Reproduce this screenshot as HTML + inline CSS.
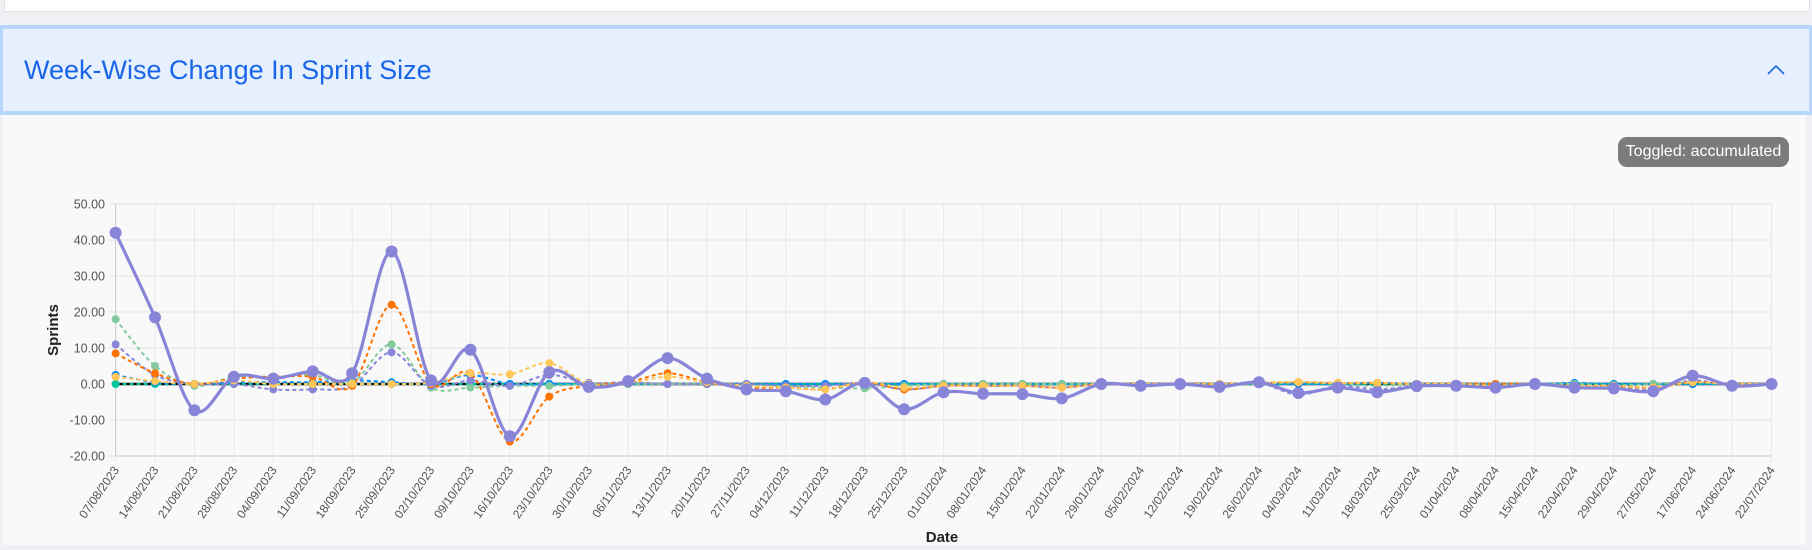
<!DOCTYPE html>
<html><head><meta charset="utf-8">
<style>
html,body{margin:0;padding:0;width:1812px;height:550px;overflow:hidden;background:#f0eff4;font-family:"Liberation Sans",sans-serif;}
#topcard{position:absolute;left:4px;top:0;width:1804px;height:11px;background:#fff;border:1px solid #ddd;border-top:none;}
#header{position:absolute;left:0;top:25px;width:1806px;height:82px;background:#e7f0fe;border:4px solid #b8d5fb;border-left-width:3px;}
#title{position:absolute;left:21px;top:26px;font-size:27px;color:#1a66e8;white-space:nowrap;}
#body{position:absolute;left:3px;top:115px;width:1803px;height:430px;background:#f9f9f9;}
#badge{position:absolute;left:1618px;top:137px;width:171px;height:30px;background:#7b7b7b;border-radius:9px;color:#fff;font-size:16px;line-height:30px;text-align:center;}
svg{position:absolute;left:0;top:0;}
</style></head><body>
<div id="topcard"></div>
<div id="header">
  <div id="title">Week-Wise Change In Sprint Size</div>
</div>
<div id="body"></div>
<div id="badge">Toggled: accumulated</div>
<svg id="chart" width="1812" height="550">
  <polyline points="1768,74 1776,66 1784,74" fill="none" stroke="#1a66e8" stroke-width="1.6"/>
</svg>
<script>
const categories=["07/08/2023","14/08/2023","21/08/2023","28/08/2023","04/09/2023","11/09/2023","18/09/2023","25/09/2023","02/10/2023","09/10/2023","16/10/2023","23/10/2023","30/10/2023","06/11/2023","13/11/2023","20/11/2023","27/11/2023","04/12/2023","11/12/2023","18/12/2023","25/12/2023","01/01/2024","08/01/2024","15/01/2024","22/01/2024","29/01/2024","05/02/2024","12/02/2024","19/02/2024","26/02/2024","04/03/2024","11/03/2024","18/03/2024","25/03/2024","01/04/2024","08/04/2024","15/04/2024","22/04/2024","29/04/2024","27/05/2024","17/06/2024","24/06/2024","22/07/2024"];
const yTicks=[50,40,30,20,10,0,-10,-20];
const seriesTeal=[0,0,0,0,0,0,0,0,0,0,0,0,0,0,0,0,0,0,0,0,0,0,0,0,0,0,0,0,0,0,0,0,0,0,0,0,0,0,0,0,0,0,0];
const seriesBlue=[2.5,0.5,0,0.5,0.5,0.5,1,0.5,0,2.5,0,0,0,0,0,0,0,0,0,0,0,0,0,0,0,0,0,0,0,0,0,0,0.3,0,0,0,0,0.3,0,0,0,0,0];
const seriesYellow=[2,0.8,0,1,0,0,0,0,0.3,3,2.7,5.8,0,0.3,2,0.5,-0.5,-1,-1.5,0.5,-1,-0.5,-0.5,-0.5,-1,0,0,0,0,0.3,0.5,0.3,0.3,0,0,-0.5,0,-0.5,-0.5,-1,0.5,0,0];
const seriesGreen=[18,5,-0.5,2,2,2.5,0.5,11,-1,-1,-0.5,-0.5,0,0,0,0,-0.5,-0.5,-1,-1.2,-0.5,0,0,0,0,0,0,0,0,0,0.5,0,-0.5,0,0,0,0,0,-0.3,0,0.5,0,0];
const seriesLavender=[11,2.5,0,0,-1.5,-1.5,-0.5,8.8,-0.5,1,-0.5,2.5,0.3,0.5,0,0,0,-0.5,-0.5,0.3,-1.5,-0.5,-0.5,-0.5,-1,0,-0.3,0,-0.5,0.3,-3,-0.5,-1.5,-0.5,-0.5,-0.5,0,-0.5,-0.8,-1.5,1,-0.5,0];
const seriesOrange=[8.5,3,0,1.5,2,2,-0.5,22,0,3,-16,-3.5,-0.5,0.5,3,0.5,-1,-1,-1.5,0.5,-1.5,-0.5,-0.5,-0.5,-1,0,0,0,0,0.3,0.5,0.3,0.3,0,0,0,0,-0.5,-0.5,-1,0.5,0,0];
const seriesMain=[42,18.5,-7.3,2,1.5,3.5,3,36.8,1,9.5,-14.5,3.3,-0.8,0.8,7.2,1.5,-1.5,-2,-4.3,0.3,-7,-2.3,-2.7,-2.8,-4,0,-0.5,0,-0.8,0.5,-2.5,-1,-2.3,-0.6,-0.5,-1,0,-1,-1.2,-2,2.3,-0.5,0];

const svg=document.getElementById('chart');
const NS='http://www.w3.org/2000/svg';
const X0=115.6,X1=1771.5,Y0=384,PX=3.6;
function xs(i){return X0+(X1-X0)*i/(categories.length-1);}
function ys(v){return Y0-v*PX;}
function mk(t,a,parent){const e=document.createElementNS(NS,t);for(const k in a)e.setAttribute(k,a[k]);(parent||svg).appendChild(e);return e;}

for(let i=0;i<categories.length;i++){
  const l=mk('line',{x1:xs(i),x2:xs(i),y1:ys(50),y2:ys(-20)+6,stroke:'#e9e9e9','stroke-width':1});
  
  
}
yTicks.forEach(v=>{
  const l=mk('line',{x1:X0-7,x2:X1,y1:ys(v),y2:ys(v),stroke:'#e2e2e2','stroke-width':1});
  
  
  const t=mk('text',{x:105,y:ys(v)+4.5,'text-anchor':'end','font-size':12.5,fill:'#555'});
  t.textContent=v.toFixed(2);
  
  
});
mk('line',{x1:X0,x2:X0,y1:ys(50),y2:ys(-20),stroke:'#ccc'});
mk('line',{x1:X0,x2:X1,y1:ys(-20),y2:ys(-20),stroke:'#ccc'});
categories.forEach((c,i)=>{
  const t=mk('text',{x:0,y:0,'text-anchor':'end','font-size':12,fill:'#555',transform:`translate(${xs(i)+4},${ys(-20)+14}) rotate(-55)`});
  t.textContent=c;
  
  
});
const yt=mk('text',{x:0,y:0,'text-anchor':'middle','font-size':15,'font-weight':'bold',fill:'#222',transform:'translate(58,330) rotate(-90)'});
yt.textContent='Sprints';


const xt=mk('text',{x:942,y:542,'text-anchor':'middle','font-size':15,'font-weight':'bold',fill:'#222'});
xt.textContent='Date';



const zl=mk('line',{x1:X0,x2:X1,y1:Y0,y2:Y0,stroke:'#000','stroke-width':2.5});



function path(vals){
  const p=vals.map((v,i)=>[xs(i),ys(v)]);
  let d=`M${p[0][0]},${p[0][1]}`;
  for(let i=0;i<p.length-1;i++){
    const a=p[Math.max(i-1,0)],b=p[i],c=p[i+1],e=p[Math.min(i+2,p.length-1)];
    const k=1/6;
    d+=` C${b[0]+(c[0]-a[0])*k},${b[1]+(c[1]-a[1])*k} ${c[0]-(e[0]-b[0])*k},${c[1]-(e[1]-b[1])*k} ${c[0]},${c[1]}`;
  }
  return d;
}
function series(vals,color,name,solid){
  const g=mk('g',{});
  
  
  mk('path',{d:path(vals),fill:'none',stroke:color,'stroke-width':solid?3.2:2,'stroke-dasharray':solid?'':'4 3'},g);
  vals.forEach((v,i)=>{
    const c=mk('circle',{cx:xs(i),cy:ys(v),r:solid?6:4,fill:color},g);
    
    
  });
}
series(seriesTeal,'#00c49f','series-teal',false);
series(seriesBlue,'#0088fe','series-blue',false);
series(seriesGreen,'#82ca9d','series-green',false);
series(seriesLavender,'#8884d8','series-lavender',false);
series(seriesOrange,'#ff7300','series-orange',false);
series(seriesYellow,'#ffc658','series-yellow',false);
series(seriesMain,'#8884d8','series-main',true);
</script>
</body></html>
